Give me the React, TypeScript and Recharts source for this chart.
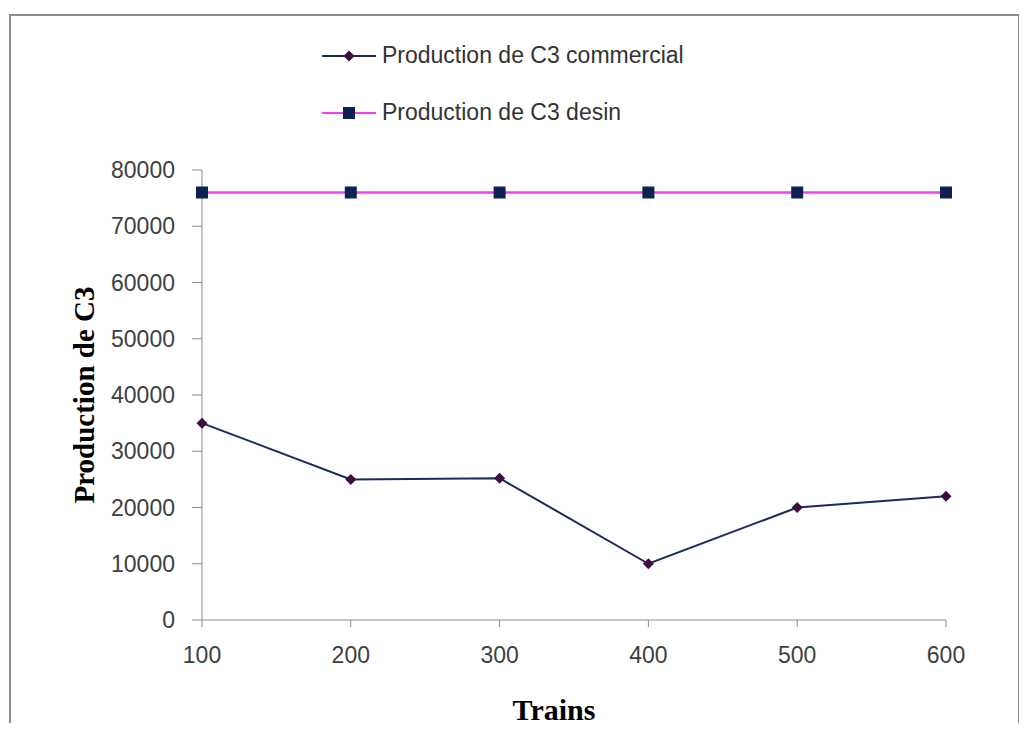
import { CartesianGrid, Legend, Line, LineChart, XAxis, YAxis } from "recharts";

const trains = [100, 200, 300, 400, 500, 600];
const commercial = [35000, 25000, 25200, 10000, 20000, 22000];
const desin = [76000, 76000, 76000, 76000, 76000, 76000];
const yTicks = [0, 10000, 20000, 30000, 40000, 50000, 60000, 70000, 80000];

const data = trains.map((t, i) => ({ train: t, commercial: commercial[i], desin: desin[i] }));

const FONT = "'Liberation Sans', Arial, sans-serif";
const SERIF = "'Liberation Serif', 'Times New Roman', serif";
const LINE_C = "#1b2a5c";
const DIAMOND_C = "#3e0c3e";
const PINK = "#f040f0";
const SQUARE_C = "#0d2252";

function Diamond({ cx, cy }: any) {
  if (cx == null || cy == null) return null;
  const r = 5.5;
  return <path d={`M${cx},${cy - r}L${cx + r},${cy}L${cx},${cy + r}L${cx - r},${cy}Z`} fill={DIAMOND_C} />;
}

function Square({ cx, cy }: any) {
  if (cx == null || cy == null) return null;
  const r = 6;
  return <rect x={cx - r} y={cy - r} width={r * 2} height={r * 2} fill={SQUARE_C} />;
}

function LegendBox() {
  const rows = [
    { label: "Production de C3 commercial", color: LINE_C, mark: "d" },
    { label: "Production de C3 desin", color: PINK, mark: "s" },
  ];
  return (
    <div>
      {rows.map((r) => (
        <div key={r.label} style={{ display: "flex", alignItems: "center", height: 57 }}>
          <svg width={60} height={20}>
            <line x1={0} y1={10} x2={54} y2={10} stroke={r.color} strokeWidth={2} />
            {r.mark === "d" ? <Diamond cx={27} cy={10} /> : <Square cx={27} cy={10} />}
          </svg>
          <span style={{ fontFamily: FONT, fontSize: 23, color: "#333" }}>{r.label}</span>
        </div>
      ))}
    </div>
  );
}

export default function App() {
  return (
    <div style={{ position: "relative", width: 1027, height: 731, margin: -8, overflow: "hidden", background: "#fff" }}>
      <div
        style={{
          position: "absolute",
          left: 9,
          top: 14,
          width: 1007,
          height: 760,
          border: "2px solid #8c8c8c",
        }}
      />
      <LineChart
        width={1027}
        height={731}
        data={data}
        margin={{ top: 170, right: 81, bottom: 51, left: 52 }}
      >
        <CartesianGrid stroke="none" />
        <XAxis
          dataKey="train"
          type="number"
          domain={[100, 600]}
          ticks={trains}
          height={60}
          stroke="#8c8c8c"
          tickSize={7}
          tickMargin={20}
          tick={{ fill: "#404040", fontFamily: FONT, fontSize: 23 }}
          label={{
            content: ({ viewBox }: any) => (
              <text
                x={viewBox.x + viewBox.width / 2 - 20}
                y={720}
                textAnchor="middle"
                fontFamily={SERIF}
                fontWeight="bold"
                fontSize={30}
                fill="#000"
              >
                Trains
              </text>
            ),
          }}
        />
        <YAxis
          domain={[0, 80000]}
          ticks={yTicks}
          width={150}
          stroke="#8c8c8c"
          tickSize={10}
          tickMargin={17}
          tick={{ fill: "#404040", fontFamily: FONT, fontSize: 23 }}
          label={{
            content: ({ viewBox }: any) => {
              const x = 94;
              const y = viewBox.y + viewBox.height / 2;
              return (
                <text
                  x={x}
                  y={y}
                  transform={`rotate(-90, ${x}, ${y})`}
                  textAnchor="middle"
                  fontFamily={SERIF}
                  fontWeight="bold"
                  fontSize={29}
                  fill="#000"
                >
                  Production de C3
                </text>
              );
            },
          }}
        />
        <Legend
          layout="vertical"
          align="center"
          verticalAlign="middle"
          wrapperStyle={{ position: "absolute", top: 27, left: 322, width: 500 }}
          content={() => <LegendBox />}
        />
        <Line
          dataKey="commercial"
          stroke={LINE_C}
          strokeWidth={2}
          dot={<Diamond />}
          activeDot={false}
          isAnimationActive={false}
        />
        <Line
          dataKey="desin"
          stroke={PINK}
          strokeWidth={2.5}
          dot={<Square />}
          activeDot={false}
          isAnimationActive={false}
        />
      </LineChart>
    </div>
  );
}
